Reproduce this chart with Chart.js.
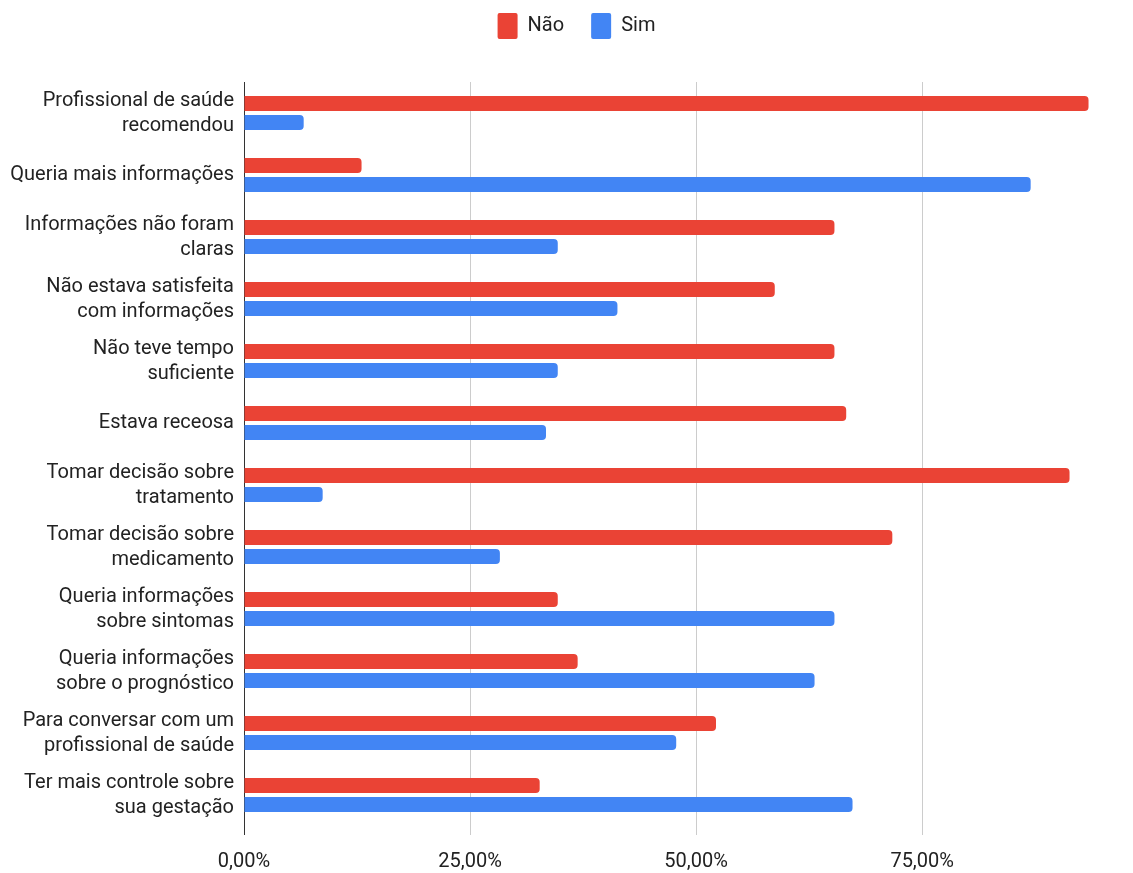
<!DOCTYPE html>
<html lang="pt-BR">
<head>
<meta charset="utf-8">
<title>Motivos - Não / Sim</title>
<script src="https://cdn.jsdelivr.net/npm/chart.js@4.4.1/dist/chart.umd.min.js"></script>
<style>
  html, body { margin: 0; padding: 0; background: #fff; }
  #wrap { width: 1133px; height: 873px; }
</style>
</head>
<body>
<div id="wrap"><canvas id="chartMotivos"></canvas></div>
<script>
// ==================== DADOS ====================
const categorias = [
  ['Profissional de saúde', 'recomendou'],
  'Queria mais informações',
  ['Informações não foram', 'claras'],
  ['Não estava satisfeita', 'com informações'],
  ['Não teve tempo', 'suficiente'],
  'Estava receosa',
  ['Tomar decisão sobre', 'tratamento'],
  ['Tomar decisão sobre', 'medicamento'],
  ['Queria informações', 'sobre sintomas'],
  ['Queria informações', 'sobre o prognóstico'],
  ['Para conversar com um', 'profissional de saúde'],
  ['Ter mais controle sobre', 'sua gestação']
];
const valoresNao = [93.4, 13.0, 65.3, 58.7, 65.3, 66.6, 91.3, 71.7, 34.7, 36.9, 52.2, 32.7];
const valoresSim = [6.6, 87.0, 34.7, 41.3, 34.7, 33.4, 8.7, 28.3, 65.3, 63.1, 47.8, 67.3];
const marcasX = [0, 25, 50, 75];

// espaço extra entre a legenda e a área do gráfico, e legenda um pouco à direita
const ajusteLegenda = {
  id: 'ajusteLegenda',
  beforeInit(chart) {
    const fitOriginal = chart.legend.fit;
    chart.legend.fit = function () {
      fitOriginal.bind(chart.legend)();
      this.height += 33;
    };
  },
  afterLayout(chart) {
    chart.legend.left += 21;
    chart.legend.right += 21;
  }
};

Chart.defaults.font.family = 'Roboto, "Liberation Sans", Arial, sans-serif';
Chart.defaults.color = '#222';

// ==================== GRAFICO DE BARRAS HORIZONTAIS ====================
const cxMotivos = document.getElementById('chartMotivos');
const chtMotivos = new Chart(cxMotivos, {
  type: 'bar',
  data: {
    labels: categorias,
    datasets: [
      {
        label: 'Não',
        data: valoresNao,
        backgroundColor: '#EA4335',
        borderRadius: 4,
        barPercentage: 0.79,
        categoryPercentage: 0.613,
      },
      {
        label: 'Sim',
        data: valoresSim,
        backgroundColor: '#4285F4',
        borderRadius: 4,
        barPercentage: 0.79,
        categoryPercentage: 0.613,
      },
    ]
  },
  options: {
    indexAxis: 'y',
    responsive: true,
    maintainAspectRatio: false,
    animation: false,
    layout: { padding: { top: -14, left: 8, right: 30, bottom: 0 } },
    scales: {
      x: {
        min: 0,
        max: 95,
        afterBuildTicks: (axis) => {
          axis.ticks = marcasX.map(v => ({ value: v }));
        },
        afterFit: (scale) => { scale.height = 47; },
        border: { display: false },
        grid: {
          color: (ctx) => ctx.tick && ctx.tick.value === 0 ? '#333' : '#ccc',
          drawTicks: true,
          tickLength: 9,
        },
        ticks: {
          padding: 15,
          font: { size: 20 },
          callback: (v) => v.toFixed(2).replace('.', ',') + '%',
        },
      },
      y: {
        afterFit: (scale) => { scale.width = 236; },
        border: { display: true, color: '#333', width: 1 },
        grid: { display: false, drawTicks: false },
        ticks: {
          padding: 10,
          font: { size: 20, lineHeight: 1.25 },
        },
      },
    },
    plugins: {
      legend: {
        position: 'top',
        labels: {
          boxWidth: 20,
          boxHeight: 26,
          padding: 27,
          font: { size: 20 },
          useBorderRadius: true,
          borderRadius: 2,
        },
      },
      tooltip: { enabled: false },
    },
  },
  plugins: [ajusteLegenda],
});
</script>
</body>
</html>
